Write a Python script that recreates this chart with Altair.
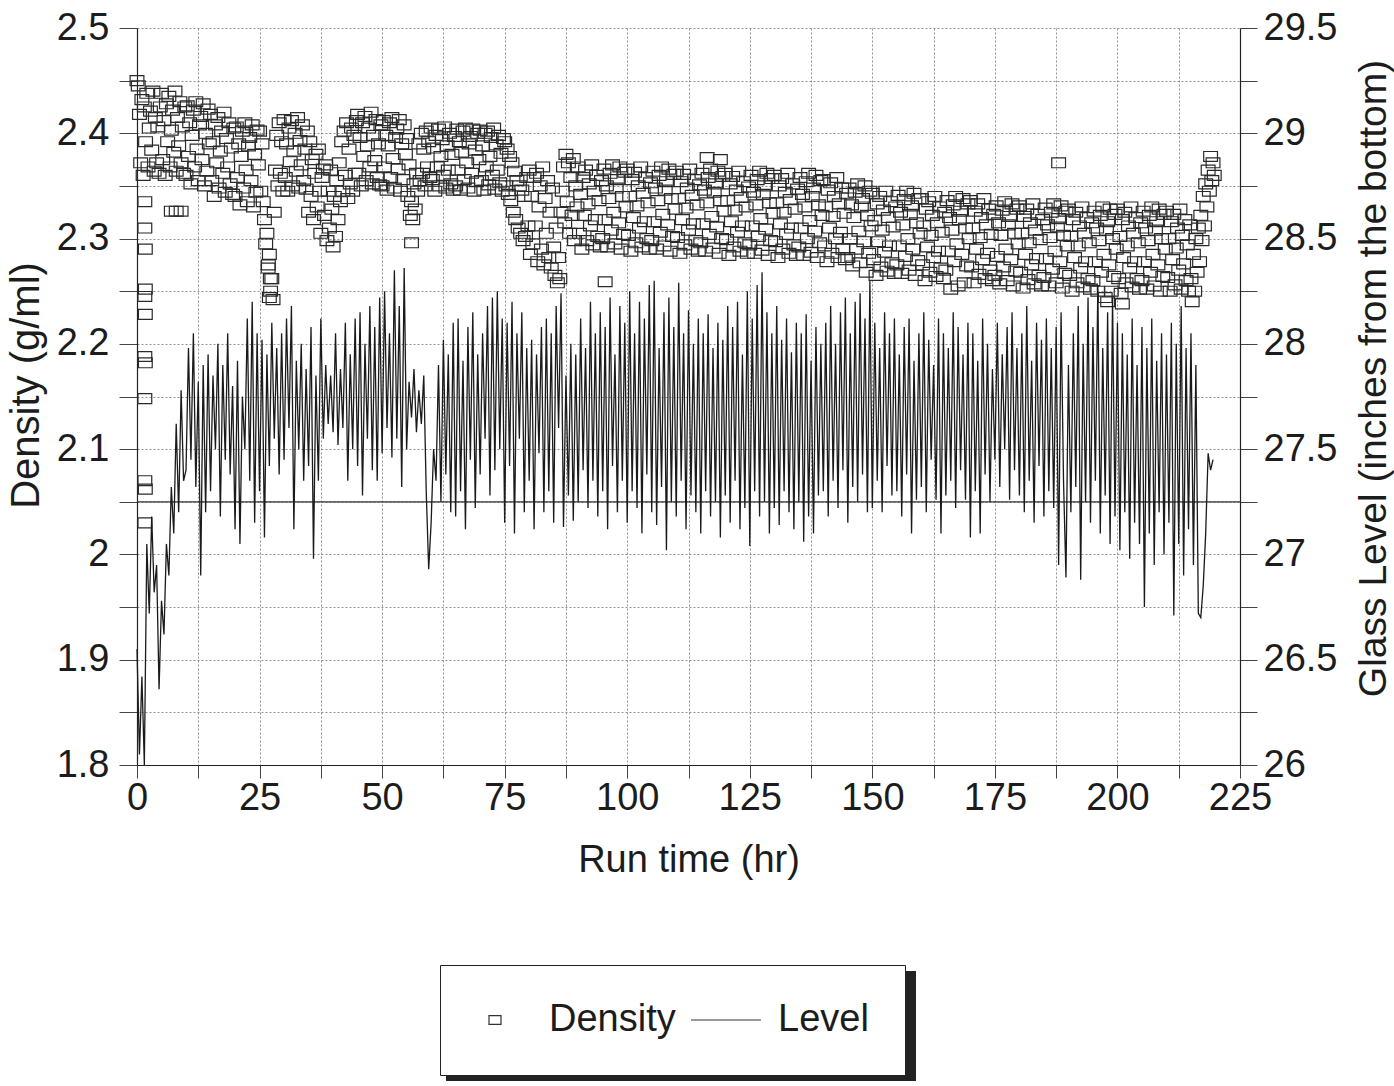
import altair as alt
import pandas as pd

# ---------------- data ----------------
# Density (g/ml), one reading every 0.25 hr starting at 0 hr
density_values = [
    2.450, 2.445, 2.418, 2.372, 2.432, 2.360, 2.425, 2.392, 2.438, 2.368, 2.405, 2.421, 2.384, 2.440, 2.364, 2.415, 2.372, 2.406, 2.362, 2.425,
    2.438, 2.375, 2.412, 2.360, 2.428, 2.392, 2.435, 2.368, 2.403, 2.422, 2.382, 2.440, 2.364, 2.415, 2.388, 2.430, 2.372, 2.406, 2.362, 2.425,
    2.360, 2.426, 2.378, 2.410, 2.352, 2.398, 2.422, 2.368, 2.430, 2.385, 2.355, 2.408, 2.416, 2.375, 2.428, 2.350, 2.400, 2.364, 2.423, 2.390,
    2.418, 2.355, 2.392, 2.340, 2.408, 2.372, 2.415, 2.348, 2.383, 2.402, 2.362, 2.420, 2.344, 2.395, 2.368, 2.410, 2.352, 2.386, 2.342, 2.405,
    2.340, 2.406, 2.358, 2.390, 2.332, 2.378, 2.402, 2.348, 2.410, 2.365, 2.335, 2.388, 2.396, 2.355, 2.408, 2.330, 2.380, 2.344, 2.403, 2.370,
    2.402, 2.345, 2.390, 2.335, 2.318, 2.295, 2.305, 2.272, 2.285, 2.250, 2.262, 2.242, 2.325, 2.365, 2.398, 2.350, 2.410, 2.362, 2.392, 2.345,
    2.413, 2.358, 2.390, 2.345, 2.405, 2.373, 2.412, 2.350, 2.383, 2.400, 2.364, 2.415, 2.348, 2.393, 2.370, 2.408, 2.355, 2.385, 2.347, 2.402,
    2.325, 2.392, 2.340, 2.375, 2.318, 2.362, 2.380, 2.330, 2.385, 2.345, 2.305, 2.358, 2.366, 2.322, 2.370, 2.298, 2.345, 2.310, 2.365, 2.328,
    2.292, 2.340, 2.302, 2.355, 2.318, 2.372, 2.335, 2.392, 2.345, 2.402, 2.360, 2.410, 2.338, 2.385, 2.352, 2.405, 2.345, 2.398, 2.362, 2.412,
    2.418, 2.362, 2.396, 2.350, 2.410, 2.378, 2.416, 2.355, 2.388, 2.405, 2.368, 2.420, 2.352, 2.398, 2.374, 2.413, 2.358, 2.390, 2.351, 2.408,
    2.350, 2.412, 2.368, 2.398, 2.346, 2.388, 2.410, 2.358, 2.415, 2.376, 2.348, 2.396, 2.404, 2.366, 2.413, 2.345, 2.390, 2.356, 2.408, 2.380,
    2.395, 2.340, 2.370, 2.322, 2.335, 2.318, 2.352, 2.328, 2.362, 2.345, 2.390, 2.355, 2.400, 2.362, 2.385, 2.350, 2.402, 2.368, 2.392, 2.358,
    2.405, 2.356, 2.386, 2.345, 2.398, 2.368, 2.404, 2.350, 2.378, 2.394, 2.360, 2.406, 2.348, 2.388, 2.365, 2.400, 2.352, 2.380, 2.346, 2.397,
    2.350, 2.404, 2.365, 2.392, 2.346, 2.382, 2.402, 2.356, 2.405, 2.372, 2.348, 2.390, 2.397, 2.362, 2.404, 2.345, 2.384, 2.354, 2.400, 2.375,
    2.403, 2.355, 2.388, 2.346, 2.400, 2.368, 2.402, 2.351, 2.378, 2.396, 2.360, 2.405, 2.347, 2.389, 2.365, 2.398, 2.353, 2.381, 2.345, 2.395,
    2.392, 2.350, 2.385, 2.342, 2.378, 2.336, 2.372, 2.325, 2.364, 2.318, 2.355, 2.310, 2.350, 2.305, 2.346, 2.298, 2.340, 2.302, 2.358, 2.312,
    2.365, 2.285, 2.340, 2.295, 2.358, 2.312, 2.362, 2.278, 2.330, 2.350, 2.290, 2.368, 2.275, 2.338, 2.305, 2.355, 2.282, 2.325, 2.272, 2.348,
    2.292, 2.265, 2.310, 2.258, 2.282, 2.262, 2.325, 2.345, 2.368, 2.315, 2.380, 2.335, 2.372, 2.305, 2.358, 2.322, 2.376, 2.298, 2.350, 2.330,
    2.368, 2.305, 2.342, 2.290, 2.358, 2.322, 2.365, 2.298, 2.333, 2.352, 2.312, 2.370, 2.294, 2.345, 2.318, 2.360, 2.302, 2.336, 2.292, 2.355,
    2.300, 2.366, 2.318, 2.350, 2.292, 2.338, 2.362, 2.308, 2.370, 2.325, 2.295, 2.348, 2.356, 2.315, 2.368, 2.290, 2.340, 2.304, 2.363, 2.330,
    2.366, 2.303, 2.340, 2.288, 2.356, 2.320, 2.363, 2.296, 2.331, 2.350, 2.310, 2.368, 2.292, 2.343, 2.316, 2.358, 2.300, 2.334, 2.290, 2.353,
    2.298, 2.364, 2.316, 2.348, 2.290, 2.336, 2.360, 2.306, 2.368, 2.323, 2.293, 2.346, 2.354, 2.313, 2.366, 2.288, 2.338, 2.302, 2.361, 2.328,
    2.364, 2.301, 2.338, 2.286, 2.354, 2.318, 2.361, 2.294, 2.329, 2.348, 2.308, 2.366, 2.290, 2.341, 2.314, 2.356, 2.298, 2.332, 2.288, 2.351,
    2.296, 2.362, 2.314, 2.346, 2.288, 2.334, 2.358, 2.304, 2.366, 2.321, 2.291, 2.344, 2.352, 2.311, 2.364, 2.286, 2.336, 2.300, 2.359, 2.326,
    2.362, 2.299, 2.336, 2.284, 2.352, 2.316, 2.359, 2.292, 2.327, 2.346, 2.306, 2.364, 2.288, 2.339, 2.312, 2.354, 2.296, 2.330, 2.286, 2.349,
    2.294, 2.360, 2.312, 2.344, 2.286, 2.332, 2.356, 2.302, 2.364, 2.319, 2.289, 2.342, 2.350, 2.309, 2.362, 2.284, 2.334, 2.298, 2.357, 2.324,
    2.360, 2.297, 2.334, 2.282, 2.350, 2.314, 2.357, 2.290, 2.325, 2.344, 2.304, 2.362, 2.286, 2.337, 2.310, 2.352, 2.294, 2.328, 2.284, 2.347,
    2.292, 2.358, 2.310, 2.342, 2.284, 2.330, 2.354, 2.300, 2.362, 2.317, 2.287, 2.340, 2.348, 2.307, 2.360, 2.282, 2.332, 2.296, 2.355, 2.322,
    2.356, 2.293, 2.330, 2.278, 2.346, 2.310, 2.353, 2.286, 2.321, 2.340, 2.300, 2.358, 2.282, 2.333, 2.306, 2.348, 2.290, 2.324, 2.280, 2.343,
    2.282, 2.348, 2.300, 2.332, 2.274, 2.320, 2.344, 2.290, 2.352, 2.307, 2.277, 2.330, 2.338, 2.297, 2.350, 2.268, 2.322, 2.286, 2.345, 2.312,
    2.343, 2.280, 2.317, 2.265, 2.333, 2.297, 2.340, 2.273, 2.308, 2.327, 2.287, 2.345, 2.269, 2.320, 2.293, 2.335, 2.277, 2.311, 2.267, 2.330,
    2.275, 2.341, 2.293, 2.325, 2.267, 2.313, 2.337, 2.283, 2.345, 2.300, 2.270, 2.323, 2.331, 2.290, 2.343, 2.265, 2.315, 2.279, 2.338, 2.305,
    2.338, 2.275, 2.312, 2.260, 2.328, 2.292, 2.335, 2.268, 2.303, 2.322, 2.282, 2.340, 2.264, 2.315, 2.288, 2.330, 2.272, 2.306, 2.262, 2.325,
    2.270, 2.336, 2.288, 2.320, 2.252, 2.308, 2.332, 2.278, 2.340, 2.295, 2.255, 2.318, 2.326, 2.285, 2.338, 2.258, 2.310, 2.274, 2.333, 2.300,
    2.336, 2.273, 2.310, 2.258, 2.326, 2.290, 2.333, 2.266, 2.301, 2.320, 2.280, 2.338, 2.262, 2.313, 2.286, 2.328, 2.270, 2.304, 2.260, 2.323,
    2.265, 2.331, 2.283, 2.315, 2.257, 2.303, 2.327, 2.273, 2.335, 2.290, 2.260, 2.313, 2.321, 2.280, 2.333, 2.255, 2.305, 2.269, 2.328, 2.295,
    2.331, 2.268, 2.305, 2.253, 2.321, 2.285, 2.328, 2.261, 2.296, 2.315, 2.275, 2.333, 2.257, 2.308, 2.281, 2.323, 2.265, 2.299, 2.255, 2.318,
    2.263, 2.329, 2.281, 2.313, 2.255, 2.301, 2.325, 2.271, 2.333, 2.288, 2.258, 2.311, 2.319, 2.278, 2.331, 2.253, 2.303, 2.267, 2.326, 2.293,
    2.328, 2.265, 2.302, 2.250, 2.318, 2.282, 2.325, 2.258, 2.293, 2.312, 2.272, 2.330, 2.254, 2.305, 2.278, 2.320, 2.262, 2.296, 2.252, 2.315,
    2.260, 2.326, 2.278, 2.310, 2.250, 2.298, 2.322, 2.268, 2.330, 2.285, 2.244, 2.308, 2.316, 2.275, 2.328, 2.250, 2.300, 2.264, 2.323, 2.290,
    2.328, 2.262, 2.302, 2.248, 2.318, 2.282, 2.325, 2.258, 2.293, 2.312, 2.272, 2.330, 2.254, 2.305, 2.278, 2.320, 2.262, 2.296, 2.252, 2.315,
    2.260, 2.326, 2.278, 2.310, 2.252, 2.298, 2.322, 2.268, 2.330, 2.285, 2.255, 2.308, 2.316, 2.275, 2.328, 2.250, 2.300, 2.264, 2.323, 2.290,
    2.326, 2.263, 2.300, 2.250, 2.316, 2.280, 2.323, 2.256, 2.291, 2.310, 2.270, 2.328, 2.252, 2.303, 2.276, 2.318, 2.260, 2.294, 2.250, 2.313,
    2.262, 2.240, 2.285, 2.250, 2.300, 2.268, 2.310, 2.278, 2.322, 2.298, 2.340, 2.312, 2.352, 2.330, 2.365, 2.345, 2.378, 2.355, 2.372, 2.360,
]
density_step_hr = 0.25

# isolated density readings (start-up trail and outliers)
extra_density_hours = [1.6, 1.6, 1.7, 1.7, 1.6, 1.7, 1.6, 1.7, 1.6, 1.6, 1.7, 1.6,
                       7.0, 8.0, 9.0, 26.8, 27.2, 27.0, 56.0, 95.5, 116.3, 119.0,
                       188.0, 198.0, 201.0]
extra_density_values = [2.335, 2.310, 2.290, 2.252, 2.245, 2.228, 2.188, 2.182, 2.148,
                        2.070, 2.062, 2.030, 2.326, 2.326, 2.326, 2.275, 2.262, 2.244,
                        2.296, 2.259, 2.377, 2.375, 2.372, 2.240, 2.238]

# Glass level (inches from the bottom), one reading every 0.5 hr starting at 0 hr
level_values = [
    26.55, 26.05, 26.42, 26.00, 27.05, 26.72, 27.18, 26.82, 26.95, 26.36,
    26.78, 26.62, 27.05, 26.90, 27.32, 27.10, 27.62, 27.20, 27.78, 27.35,
    27.40, 27.98, 27.45, 28.05, 27.32, 27.82, 26.90, 27.90, 27.20, 27.95,
    27.30, 27.85, 27.50, 28.00, 27.18, 27.90, 27.45, 28.05, 27.38, 27.80,
    27.12, 27.92, 27.05, 27.75, 27.50, 28.12, 27.35, 28.20, 27.15, 28.05,
    27.30, 28.02, 27.08, 27.95, 27.42, 28.10, 27.55, 27.98, 27.38, 28.05,
    27.45, 28.12, 27.60, 28.18, 27.12, 27.92, 27.50, 28.00, 27.35, 27.88,
    27.42, 28.08, 26.98, 27.85, 27.35, 28.12, 27.55, 27.90, 27.62, 27.85,
    27.58, 28.05, 27.52, 27.88, 27.60, 28.10, 27.35, 27.95, 27.50, 28.12,
    27.42, 28.15, 27.28, 28.00, 27.55, 28.18, 27.40, 28.08, 27.35, 28.22,
    27.48, 28.25, 27.60, 28.05, 27.46, 28.35, 27.55, 28.18, 27.32, 28.36,
    27.50, 27.82, 27.65, 27.88, 27.58, 27.78, 27.62, 27.85, 27.30, 26.93,
    27.15, 27.50, 27.35, 27.90, 27.25, 28.02, 27.38, 27.95, 27.20, 28.10,
    27.18, 28.12, 27.30, 27.92, 27.12, 28.08, 27.45, 28.15, 27.22, 27.95,
    27.38, 28.05, 27.55, 28.18, 27.28, 28.22, 27.40, 28.25, 27.50, 28.12,
    27.15, 28.10, 27.42, 28.20, 27.10, 28.05, 27.55, 28.15, 27.20, 27.98,
    27.35, 28.02, 27.12, 27.95, 27.48, 28.08, 27.20, 28.12, 27.30, 28.05,
    27.15, 28.18, 27.60, 28.24, 27.13, 27.85, 27.28, 28.00, 27.16, 27.95,
    27.25, 28.12, 27.40, 27.98, 27.22, 28.20, 27.35, 28.05, 27.18, 28.15,
    27.30, 28.08, 27.12, 28.22, 27.42, 27.95, 27.20, 28.18, 27.35, 28.10,
    27.15, 28.25, 27.30, 28.05, 27.22, 28.20, 27.10, 28.12, 27.38, 28.28,
    27.20, 28.30, 27.14, 27.98, 27.32, 28.15, 27.02, 28.22, 27.25, 28.08,
    27.18, 28.29, 27.35, 28.05, 27.12, 28.16, 27.28, 28.00, 27.20, 28.12,
    27.10, 28.05, 27.30, 28.14, 27.18, 27.98, 27.25, 28.10, 27.08, 28.02,
    27.28, 28.18, 27.15, 28.08, 27.35, 28.20, 27.12, 27.95, 27.22, 28.25,
    27.04, 28.12, 27.30, 28.28, 27.18, 28.34, 27.25, 28.15, 27.10, 28.05,
    27.22, 28.18, 27.14, 28.02, 27.30, 28.12, 27.20, 27.96, 27.12, 28.10,
    27.25, 28.05, 27.06, 28.14, 27.18, 27.92, 27.10, 28.08, 27.28, 28.00,
    27.30, 28.10, 27.18, 28.18, 27.35, 28.00, 27.22, 28.15, 27.40, 28.22,
    27.15, 28.05, 27.32, 28.20, 27.25, 28.24, 27.38, 28.12, 27.20, 28.30,
    27.22, 28.10, 27.35, 27.98, 27.20, 28.15, 27.42, 28.05, 27.28, 28.12,
    27.30, 27.95, 27.18, 28.08, 27.38, 28.12, 27.10, 27.92, 27.26, 28.05,
    27.32, 28.15, 27.20, 28.02, 27.45, 27.90, 27.26, 28.12, 27.10, 28.05,
    27.28, 27.98, 27.35, 28.15, 27.22, 28.08, 27.40, 27.95, 27.26, 28.10,
    27.08, 28.05, 27.30, 27.92, 27.10, 28.12, 27.38, 28.00, 27.25, 27.88,
    27.45, 28.10, 27.32, 27.95, 27.50, 28.08, 27.26, 28.15, 27.40, 27.98,
    27.28, 28.05, 27.20, 28.18, 27.35, 27.92, 27.15, 28.10, 27.42, 28.02,
    27.18, 28.12, 27.30, 27.98, 27.22, 28.08, 26.95, 28.15, 27.35, 26.89,
    27.90, 27.20, 28.05, 27.32, 28.18, 26.88, 28.00, 27.25, 28.22, 27.15,
    28.08, 27.35, 28.28, 27.10, 27.98, 27.28, 28.15, 27.05, 28.22, 27.18,
    28.10, 27.02, 28.05, 27.20, 27.95, 26.98, 28.12, 27.15, 27.90, 27.05,
    28.08, 26.75, 27.98, 27.10, 28.12, 26.95, 27.92, 27.20, 28.05, 27.00,
    27.95, 27.15, 28.10, 26.71, 28.00, 27.05, 28.18, 26.90, 27.98, 27.12,
    28.05, 26.95, 27.90, 26.72, 26.70, 26.85, 27.10, 27.48, 27.40, 27.45,
]
level_step_hr = 0.5

# solid reference line drawn across the plot (glass level, inches)
reference_level = [27.25]

series_names = ["Density", "Level"]
x_tick_values = [0, 12.5, 25, 37.5, 50, 62.5, 75, 87.5, 100, 112.5, 125, 137.5,
                 150, 162.5, 175, 187.5, 200, 212.5, 225]
density_tick_values = [1.8, 1.85, 1.9, 1.95, 2.0, 2.05, 2.1, 2.15, 2.2, 2.25,
                       2.3, 2.35, 2.4, 2.45, 2.5]
level_tick_values = [26, 26.25, 26.5, 26.75, 27, 27.25, 27.5, 27.75, 28, 28.25,
                     28.5, 28.75, 29, 29.25, 29.5]

# ---------------- tables ----------------
density_df = pd.DataFrame({
    "hours": [i * density_step_hr for i in range(len(density_values))] + extra_density_hours,
    "density": density_values + extra_density_values,
    "series": "Density",
})
level_df = pd.DataFrame({
    "hours": [i * level_step_hr for i in range(len(level_values))],
    "level": level_values,
})
ref_df = pd.DataFrame({"level": reference_level})

FONT = "Liberation Sans"
INK = "#1c1c1c"

x_scale = alt.Scale(domain=[0, 225], nice=False, zero=False)
d_scale = alt.Scale(domain=[1.8, 2.5], nice=False, zero=False)
l_scale = alt.Scale(domain=[26, 29.5], nice=False, zero=False)

x_axis = alt.Axis(
    values=x_tick_values, title="Run time (hr)",
    labelExpr="datum.value % 25 == 0 ? format(datum.value, 'd') : ''",
    grid=True, gridColor="#777", gridDash=[2, 2], gridWidth=0.8,
    tickSize=13, tickColor="#444", domainColor="#222", domainWidth=1.2,
    labelFontSize=38, labelPadding=1, labelFont=FONT, labelColor=INK, labelFlush=False,
    titleFontSize=38, titleFont=FONT, titleFontWeight="normal", titleColor=INK,
    titlePadding=24, labelOverlap=False,
)
d_axis = alt.Axis(
    values=density_tick_values, title="Density (g/ml)",
    labelExpr="round(datum.value * 100) % 10 == 0 ? format(datum.value, '.1~f') : ''",
    grid=True, gridColor="#777", gridDash=[2, 2], gridWidth=0.8,
    tickSize=18, tickColor="#444", domainColor="#222", domainWidth=1.2,
    labelFontSize=38, labelPadding=10, labelFont=FONT, labelColor=INK, labelFlush=False,
    titleFontSize=40, titleFont=FONT, titleFontWeight="normal", titleColor=INK,
    titlePadding=10, titleY=357, labelOverlap=False,
)
l_axis = alt.Axis(
    values=level_tick_values, title="Glass Level (inches from the bottom)",
    orient="right",
    labelExpr="round(datum.value * 100) % 50 == 0 ? format(datum.value, '.1~f') : ''",
    grid=False, tickSize=17, tickColor="#444", domainColor="#222", domainWidth=1.2,
    labelFontSize=38, labelPadding=6, labelFont=FONT, labelColor=INK, labelFlush=False,
    titleFontSize=39, titleFont=FONT, titleFontWeight="normal", titleColor=INK,
    titleAngle=270, titleBaseline="top", titleAlign="center", titleY=350,
    titlePadding=18, labelOverlap=False,
)

legend = alt.Legend(
    title=None, orient="none", legendX=303, legendY=937, direction="horizontal",
    padding=36, strokeColor="#222", fillColor="white",
    labelFontSize=38, labelFont=FONT, labelColor=INK, labelOffset=35,
    columnPadding=12, symbolSize=144, symbolStrokeWidth=1.2, symbolStrokeColor="#333",
    symbolFillColor="transparent",
)

points = alt.Chart(density_df).mark_point(
    filled=False, color="#2a2a2a", strokeWidth=1.2, opacity=1, size=190
).encode(
    x=alt.X("hours:Q", scale=x_scale, axis=x_axis),
    y=alt.Y("density:Q", scale=d_scale, axis=d_axis),
    shape=alt.Shape("series:N", scale=alt.Scale(
        domain=series_names, range=["M-1,-0.72H1V0.72H-1Z", "M-5.5,0H6.15"]), legend=legend),
)

line = alt.Chart(level_df).mark_line(color="#1a1a1a", strokeWidth=1.3).encode(
    x=alt.X("hours:Q", scale=x_scale),
    y=alt.Y("level:Q", scale=l_scale, axis=l_axis),
)
ref_rule = alt.Chart(ref_df).mark_rule(color="#333", strokeWidth=1.3).encode(
    y=alt.Y("level:Q", scale=l_scale),
)

shadow = alt.Chart(pd.DataFrame({"k": [0]})).mark_rect(color="#222").encode(
    x=alt.value(309), x2=alt.value(779), y=alt.value(943), y2=alt.value(1053)
)

left = alt.layer(shadow, points)
right = alt.layer(ref_rule, line)

chart = alt.layer(left, right).resolve_scale(y="independent").properties(
    width=1103, height=737,
    autosize=alt.AutoSizeParams(type="none"),
    padding={"left": 137, "top": 28, "right": 154, "bottom": 321},
    background="white",
).configure_view(stroke=None)

chart.save("out.html", embed_options={"renderer": "svg", "actions": False})
